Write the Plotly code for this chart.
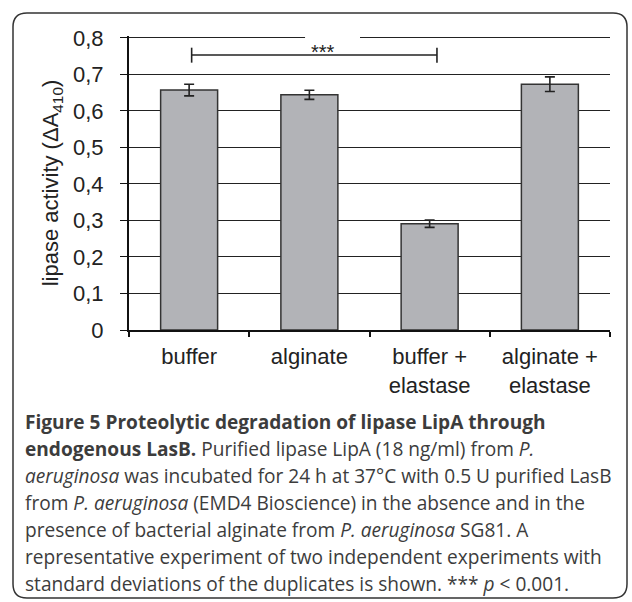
import plotly.graph_objects as go

# ---- data ----
categories = ["buffer", "alginate", "buffer +<br>elastase", "alginate +<br>elastase"]
activity = [0.657, 0.644, 0.291, 0.673]
activity_sd = [0.016, 0.0125, 0.010, 0.020]
y_ticks = [0, 0.1, 0.2, 0.3, 0.4, 0.5, 0.6, 0.7, 0.8]
signif_label = "***"

caption_lines = [
    "<b>Figure 5 Proteolytic degradation of lipase LipA through</b>",
    "<b>endogenous LasB.</b> Purified lipase LipA (18 ng/ml) from <i>P.</i>",
    "<i>aeruginosa</i> was incubated for 24 h at 37°C with 0.5 U purified LasB",
    "from <i>P. aeruginosa</i> (EMD4 Bioscience) in the absence and in the",
    "presence of bacterial alginate from <i>P. aeruginosa</i> SG81. A",
    "representative experiment of two independent experiments with",
    "standard deviations of the duplicates is shown. *** <i>p</i> &lt; 0.001.",
]

W, H = 632, 602
ML, MR, MT, MB = 129, 22, 36, 272
PW, PH = W - ML - MR, H - MT - MB


def px_x(px):
    return (px - ML) / PW


def px_y(py):
    return (H - MB - py) / PH


AX_FONT = dict(family="Liberation Sans, Arial, sans-serif", size=22, color="#222222")
CAP_FONT = "Open Sans, sans-serif"

fig = go.Figure()
fig.add_trace(go.Bar(
    x=categories,
    y=activity,
    marker=dict(color="#b2b3b7", line=dict(color="#333333", width=1.5)),
    error_y=dict(type="data", array=activity_sd, visible=True,
                 color="#222222", thickness=1.6, width=5),
    width=0.474,
))

shapes = []
# white gap in the top gridline behind the significance label
shapes.append(dict(type="rect", xref="x", yref="y", x0=0.964, x1=1.421, y0=0.79, y1=0.806,
                   fillcolor="white", line=dict(width=0), layer="above"))
# significance bracket between buffer and buffer + elastase
br_y, br_lo, br_hi = 0.753, 0.732, 0.773
for s in [dict(x0=0.021, x1=2.061, y0=br_y, y1=br_y),
          dict(x0=0.021, x1=0.021, y0=br_lo, y1=br_hi),
          dict(x0=2.061, x1=2.061, y0=br_lo, y1=br_hi)]:
    shapes.append(dict(type="line", xref="x", yref="y", line=dict(color="#222222", width=1.6),
                       layer="above", **s))
# rounded frame around figure + caption
x0, x1, y0, y1, r = 13, 627, 13, 598, 14
X0, X1, Y0, Y1 = px_x(x0), px_x(x1), px_y(y0), px_y(y1)
rx, ry = r / PW, r / PH
path = (f"M {X0+rx},{Y0} L {X1-rx},{Y0} Q {X1},{Y0} {X1},{Y0-ry} "
        f"L {X1},{Y1+ry} Q {X1},{Y1} {X1-rx},{Y1} L {X0+rx},{Y1} "
        f"Q {X0},{Y1} {X0},{Y1+ry} L {X0},{Y0-ry} Q {X0},{Y0} {X0+rx},{Y0} Z")
shapes.append(dict(type="path", xref="paper", yref="paper", path=path,
                   line=dict(color="#333333", width=1.5), layer="below"))

annotations = [dict(x=1.111, y=0.762, xref="x", yref="y", text=signif_label, showarrow=False,
                    font=dict(family="Liberation Sans, Arial, sans-serif", size=20, color="#222222"),
                    xanchor="center", yanchor="middle")]

baselines = [427, 454, 481, 508, 535, 562, 589]
for line, bl in zip(caption_lines, baselines):
    annotations.append(dict(
        x=px_x(23), y=px_y(bl + 10), xref="paper", yref="paper", text=line,
        showarrow=False, xanchor="left", yanchor="bottom", align="left",
        font=dict(family=CAP_FONT, size=19.1, color="#3c3c3c"),
    ))

fig.update_layout(
    width=W, height=H,
    margin=dict(l=ML, r=MR, t=MT, b=MB, pad=0),
    paper_bgcolor="white", plot_bgcolor="white",
    separators=", ",
    showlegend=False,
    shapes=shapes,
    annotations=annotations,
    bargap=0.526,
    xaxis=dict(
        type="category", showgrid=False, showline=True, linecolor="#111111", linewidth=2,
        ticks="outside", tickson="boundaries", ticklen=5, tickcolor="#111111", tickwidth=1.5,
        tickfont=AX_FONT, ticklabelstandoff=6, range=[-0.5, 3.5], zeroline=False,
    ),
    yaxis=dict(
        range=[0, 0.805], tickvals=y_ticks, showgrid=True, gridcolor="#222222", gridwidth=1,
        showline=True, linecolor="#111111", linewidth=2, ticks="outside", ticklen=7,
        tickcolor="#111111", tickwidth=1, tickfont=AX_FONT, ticklabelstandoff=12,
        zeroline=False,
        title=dict(text="lipase activity (ΔA<sub>410</sub>)", font=AX_FONT, standoff=8),
    ),
)

fig.write_html("out.html", config={"displayModeBar": False},
               post_script="document.body.style.margin='0';")
